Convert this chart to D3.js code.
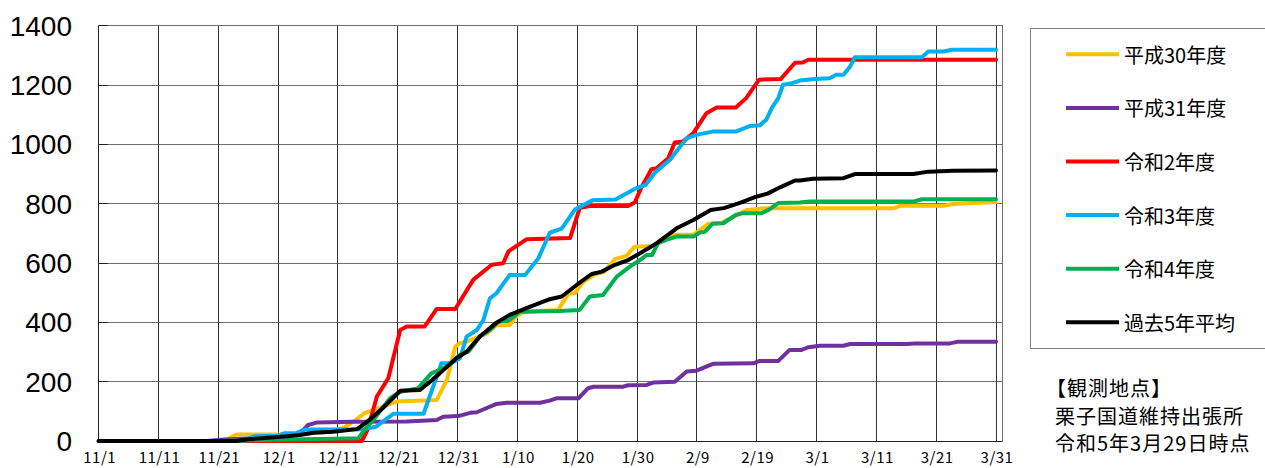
<!DOCTYPE html>
<meta charset="utf-8">
<style>
  body { margin: 0; padding: 0; background: #fff; }
  svg { display: block; font-family: "Noto Sans CJK JP", sans-serif; }
  .ylab { font-family: "Liberation Sans", Arial, sans-serif; font-size: 28px; fill: #000; }
  .xlab { font-size: 15px; fill: #000; letter-spacing: 0.5px; }
  .legend text { font-size: 20px; fill: #000; }
  .note text { font-size: 20px; fill: #000; letter-spacing: 1px; }
</style>
<script src="https://d3js.org/d3.v7.min.js"></script>
<body>
<div id="chart"></div>
<script>
  // 横軸（11/1から10日ごと）
  const xTickDays = [0, 10, 20, 30, 40, 50, 60, 70, 80, 90, 100, 110, 120, 130, 140, 150];
  const xTickLabels = ["11/1", "11/11", "11/21", "12/1", "12/11", "12/21", "12/31", "1/10",
                       "1/20", "1/30", "2/9", "2/19", "3/1", "3/11", "3/21", "3/31"];
  const yTicks = [0, 200, 400, 600, 800, 1000, 1200, 1400];

  const seriesNames = ["平成30年度", "平成31年度", "令和2年度", "令和3年度", "令和4年度", "過去5年平均"];
  const seriesColors = ["#FFC000", "#7030A0", "#FF0000", "#00B0F0", "#00B050", "#000000"];

  // 累計値 [11/1からの日数, 値]
  const h30 = [[0,0],[21,0],[23,22],[31,22],[35,26],[39,32],[41,45],[43,71],[44.5,95],[46,105],[49.8,133],
    [56.5,138],[58.2,206],[59.6,318],[60.4,330],[61.5,335],[64.9,363],[66.5,391],[68.7,391],[69.9,422],
    [71,435],[76.8,442],[78.5,496],[79.6,498],[81,537],[83,562],[84.5,570],[86.3,613],[88.2,624],
    [89.6,655],[92.6,657],[94.4,684],[96,695],[99.4,695],[101.9,732],[104.1,736],[108.3,779],
    [111.6,785],[133,785],[134,793],[141.2,793],[142.8,799],[150,806]];
  const h31 = [[0,0],[18,0],[21,5],[30,12],[33.5,22],[35,54],[36.4,62],[42.6,65],[51.5,66],[56.5,71],
    [57.6,82],[60.1,84],[62.1,95],[63.2,97],[66.5,125],[68.2,129],[73.8,129],[75.4,136],[76.5,144],
    [80.2,144],[81.8,178],[82.7,183],[87.7,183],[88.5,188],[91.6,189],[92.7,197],[96.3,200],
    [98.3,234],[99.9,237],[102.7,260],[109.4,262],[110.5,270],[113.6,270],[115.5,307],[117.5,307],
    [118.6,316],[120.6,321],[124.5,321],[125.6,327],[135.1,327],[136.4,329],[142.3,329],[143.7,335],[150,335]];
  const r2 = [[0,0],[44,0],[45,40],[46.5,150],[48.4,211],[50.4,374],[51.5,386],[54.5,386],[56.5,445],
    [59.6,445],[62.6,543],[65.7,594],[67.6,599],[68.5,639],[71.5,680],[78.8,684],[80.4,785],[82,792],
    [88.5,792],[89.6,804],[90.8,858],[92.4,916],[93.3,920],[95.2,953],[96.3,1006],[97.7,1010],
    [99.4,1038],[101.6,1105],[103.3,1124],[106.5,1124],[108.2,1155],[110.4,1218],[114,1220],
    [116.4,1275],[117.7,1276],[118.6,1285],[150,1285]];
  const r3 = [[0,0],[24,0],[26,16],[30,18],[31,26],[33,27],[34.5,39],[44.5,40],[46.3,48],[49.3,92],
    [54.3,92],[57.3,262],[58.9,262],[60.4,279],[61.5,352],[63.2,374],[64.3,408],[65.4,481],[66.5,498],
    [68.7,560],[71.3,560],[73.5,616],[75.4,702],[77.4,716],[79.6,780],[82.6,812],[86.4,814],[89.5,849],
    [91.4,863],[93,905],[95.5,948],[98.3,1021],[99.9,1032],[102.6,1043],[106.5,1043],[108.9,1062],
    [110.5,1064],[111.6,1083],[112.5,1122],[113.6,1156],[114.4,1201],[115.5,1204],[117.2,1215],
    [119.7,1220],[122.2,1223],[123.3,1235],[124.5,1235],[125.6,1262],[126.4,1294],[137.6,1294],
    [138.7,1313],[141.2,1313],[142.6,1319],[150,1319]];
  const r4 = [[0,0],[20,0],[30,4],[43.4,9],[44.8,48],[45.9,71],[48.7,144],[50.4,166],[53.4,178],
    [55.6,228],[57,240],[58.2,251],[60.7,296],[61.8,301],[63.7,352],[65.4,374],[66.8,402],[68.7,408],
    [70.4,436],[77,438],[80.4,442],[82.1,487],[84.3,492],[86.6,554],[88.8,588],[90.5,610],[91.6,627],
    [92.5,627],[93.5,667],[94.9,678],[96.6,689],[99.4,689],[100.5,703],[101.3,705],[102.6,732],
    [104.4,734],[106.5,762],[107.7,768],[110.8,768],[112,779],[113.6,802],[117.2,804],[118.9,807],
    [136.2,807],[137.6,815],[150,815]];
  const avg5 = [[0,0],[23,0],[25,6],[31,15],[33.6,20],[35.9,28],[39.2,31],[43.2,40],[45,67],[47.6,113],
    [50.4,169],[53.7,172],[55.1,195],[57,228],[59.8,279],[61.5,301],[63.7,352],[66.5,399],[68.7,425],
    [71.5,448],[75.4,478],[77.4,487],[79.9,526],[82.4,563],[84.1,571],[86.3,594],[88.5,610],[90.5,633],
    [93.3,667],[96.6,717],[99.4,745],[102.3,779],[104.5,785],[107.2,803],[109.8,823],[111.8,834],
    [114,856],[116.4,878],[117.2,878],[119.4,884],[124.5,886],[126.4,900],[136.2,900],[138.7,908],
    [142.8,911],[150,912]];
  const seriesData = [h30, h31, r2, r3, r4, avg5];

  const noteLines = ["【観測地点】", "栗子国道維持出張所", "令和5年3月29日時点"];

  const width = 1265, height = 468;
  const plot = {left: 98.7, right: 1002, top: 25.7, bottom: 441};

  const svg = d3.select("#chart").append("svg")
    .attr("width", width)
    .attr("height", height);

  const x = d3.scaleLinear().domain([0, 151]).range([plot.left, plot.right]);
  const y = d3.scaleLinear().domain([0, 1400]).range([plot.bottom, plot.top]);

  // グリッド
  const grid = svg.append("g").attr("shape-rendering", "crispEdges");
  grid.selectAll(".hgrid").data(yTicks).join("line")
    .attr("x1", plot.left).attr("x2", plot.right)
    .attr("y1", d => y(d)).attr("y2", d => y(d))
    .attr("stroke", "#6e6e6e").attr("stroke-width", 1);
  grid.selectAll(".vgrid").data(xTickDays).join("line")
    .attr("x1", d => x(d)).attr("x2", d => x(d))
    .attr("y1", plot.top).attr("y2", plot.bottom)
    .attr("stroke", "#333").attr("stroke-width", 1);
  grid.append("rect")
    .attr("x", plot.left).attr("y", plot.top)
    .attr("width", plot.right - plot.left).attr("height", plot.bottom - plot.top)
    .attr("fill", "none").attr("stroke", "#6e6e6e");
  // 目盛り（内側）
  grid.selectAll(".ytick").data(yTicks).join("line")
    .attr("x1", plot.left).attr("x2", plot.left + 9)
    .attr("y1", d => y(d)).attr("y2", d => y(d))
    .attr("stroke", "#222");
  grid.append("line")
    .attr("x1", plot.left).attr("x2", plot.left)
    .attr("y1", plot.top).attr("y2", plot.bottom)
    .attr("stroke", "#222");
  grid.append("line")
    .attr("x1", plot.left).attr("x2", plot.right)
    .attr("y1", plot.bottom).attr("y2", plot.bottom)
    .attr("stroke", "#222");

  // 軸ラベル
  svg.append("g").selectAll("text").data(yTicks).join("text")
    .attr("class", "ylab")
    .attr("x", 72)
    .attr("y", d => y(d) + 10)
    .attr("text-anchor", "end")
    .text(d => d);

  svg.append("g").selectAll("text").data(xTickDays).join("text")
    .attr("class", "xlab")
    .attr("x", (d, i) => x(d) + 1)
    .attr("y", 463)
    .attr("text-anchor", "middle")
    .text((d, i) => xTickLabels[i]);

  // 折れ線
  const line = d3.line()
    .x(d => x(d[0]))
    .y(d => y(d[1]));

  svg.append("g").selectAll("path").data(seriesData).join("path")
    .attr("d", line)
    .attr("fill", "none")
    .attr("stroke", (d, i) => seriesColors[i])
    .attr("stroke-width", 4)
    .attr("stroke-linejoin", "round")
    .attr("stroke-linecap", "round");

  // 凡例
  const legend = svg.append("g").attr("class", "legend");
  legend.append("rect")
    .attr("x", 1030.5).attr("y", 28.5)
    .attr("width", 260).attr("height", 320)
    .attr("fill", "#fff").attr("stroke", "#808080");
  const rows = legend.selectAll(".row").data(seriesNames).join("g")
    .attr("transform", (d, i) => `translate(0,${54.3 + i * 53.6})`);
  rows.append("line")
    .attr("x1", 1066).attr("x2", 1119)
    .attr("stroke", (d, i) => seriesColors[i])
    .attr("stroke-width", 4);
  rows.append("text")
    .attr("x", 1124)
    .attr("y", 0)
    .attr("dominant-baseline", "central")
    .text(d => d);

  // 観測地点
  svg.append("g").attr("class", "note").selectAll("text").data(noteLines).join("text")
    .attr("x", (d, i) => i === 0 ? 1046 : 1055)
    .attr("y", (d, i) => [387.7, 415.5, 442.5][i])
    .attr("dominant-baseline", "central")
    .text(d => d);
</script>
</body>
